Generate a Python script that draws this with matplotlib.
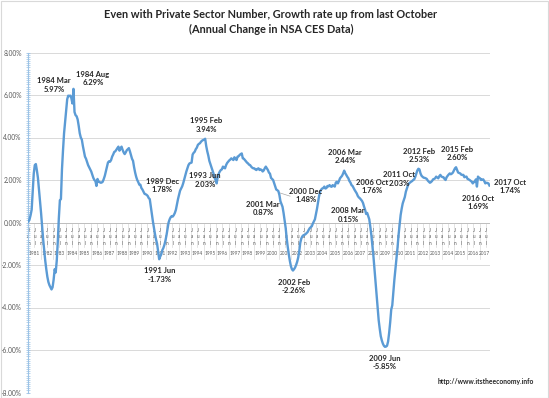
import matplotlib
matplotlib.use("Agg")
import matplotlib.pyplot as plt
import numpy as np
from matplotlib.patches import Rectangle

plt.rcParams['font.family'] = ['Lato', 'DejaVu Sans']

# ---------------- data (annual % change, monthly, Jan 1981 .. Oct 2017) ----------------
start_year = 1981
end_year = 2017
y1981 = [0.05, 0.15, 0.35, 0.6, 1.45, 2.3, 2.7, 2.75, 2.45, 2.1, 1.55, 1.0]
y1982 = [0.45, -0.2, -0.8, -1.3, -1.8, -2.2, -2.55, -2.8, -2.95, -3.05, -3.15, -3.05]
y1983 = [-2.7, -2.2, -2.35, -1.8, -0.9, 0.2, 1.05, 1.1, 2.5, 3.4, 4.2, 4.75]
y1984 = [5.3, 5.8, 5.97, 5.95, 5.97, 5.85, 5.6, 6.29, 5.2, 5.05, 5.0, 4.85]
y1985 = [4.55, 4.2, 4.0, 3.9, 3.6, 3.35, 3.1, 3.0, 2.85, 2.7, 2.6, 2.5]
y1986 = [2.4, 2.25, 2.1, 2.0, 1.95, 1.72, 2.05, 1.92, 1.9, 1.87, 1.88, 1.92]
y1987 = [2.05, 2.2, 2.4, 2.6, 2.82, 2.88, 2.86, 2.94, 3.1, 3.2, 3.32, 3.35]
y1988 = [3.42, 3.5, 3.57, 3.38, 3.5, 3.57, 3.42, 3.3, 3.22, 3.3, 3.4, 3.45]
y1989 = [3.5, 3.35, 3.18, 3.0, 2.9, 2.6, 2.35, 2.15, 2.0, 1.9, 1.78, 1.78]
y1990 = [1.62, 1.55, 1.45, 1.35, 1.33, 1.3, 1.25, 1.15, 1.1, 0.75, 0.4, 0.05]
y1991 = [-0.25, -0.55, -0.8, -1.0, -1.35, -1.73, -1.6, -1.5, -1.3, -1.2, -1.05, -0.85]
y1992 = [-0.6, -0.3, 0.0, 0.15, 0.25, 0.3, 0.28, 0.35, 0.45, 0.6, 0.85, 1.1]
y1993 = [1.3, 1.5, 1.6, 1.7, 1.85, 2.03, 2.2, 2.4, 2.55, 2.7, 2.78, 2.8]
y1994 = [2.82, 3.2, 3.28, 3.33, 3.45, 3.52, 3.65, 3.7, 3.73, 3.8, 3.85, 3.88]
y1995 = [3.9, 3.94, 3.6, 3.35, 3.15, 2.9, 2.75, 2.6, 2.45, 2.3, 2.1, 2.0]
y1996 = [1.84, 2.15, 2.3, 2.4, 2.47, 2.5, 2.63, 2.58, 2.55, 2.7, 2.8, 2.86]
y1997 = [2.92, 2.96, 3.02, 2.98, 2.94, 3.07, 3.0, 2.94, 3.1, 3.12, 3.18, 3.22]
y1998 = [3.25, 3.02, 3.0, 2.94, 2.88, 2.82, 2.78, 2.72, 2.7, 2.63, 2.58, 2.55]
y1999 = [2.55, 2.5, 2.47, 2.52, 2.55, 2.47, 2.5, 2.47, 2.4, 2.45, 2.55, 2.63]
y2000 = [2.55, 2.47, 2.35, 2.3, 2.1, 2.05, 2.0, 1.85, 1.7, 1.55, 1.52, 1.48]
y2001 = [1.3, 1.0, 0.87, 0.74, 0.45, 0.1, -0.25, -0.75, -1.15, -1.5, -1.8, -2.05]
y2002 = [-2.2, -2.26, -2.2, -2.12, -2.0, -1.85, -1.65, -1.35, -0.95, -0.75, -0.65, -0.6]
y2003 = [-0.58, -0.55, -0.5, -0.45, -0.35, -0.27, -0.22, -0.18, -0.05, 0.05, 0.15, 0.4]
y2004 = [0.65, 0.95, 1.25, 1.45, 1.55, 1.6, 1.62, 1.69, 1.6, 1.62, 1.72, 1.7]
y2005 = [1.76, 1.7, 1.68, 1.76, 1.72, 1.69, 1.88, 1.92, 1.84, 1.95, 2.08, 2.14]
y2006 = [2.2, 2.31, 2.44, 2.32, 2.24, 2.15, 2.08, 1.95, 1.88, 1.76, 1.72, 1.62]
y2007 = [1.53, 1.45, 1.37, 1.25, 1.18, 1.14, 1.08, 1.02, 0.92, 0.75, 0.6, 0.4]
y2008 = [0.45, 0.3, 0.15, -0.2, -0.6, -1.1, -1.6, -2.2, -2.8, -3.4, -4.0, -4.6]
y2009 = [-5.0, -5.35, -5.55, -5.7, -5.8, -5.85, -5.84, -5.8, -5.6, -5.2, -4.7, -4.1]
y2010 = [-3.9, -3.3, -2.7, -2.2, -1.7, -1.2, -0.6, -0.1, 0.35, 0.65, 0.9, 1.05]
y2011 = [1.2, 1.45, 1.6, 1.75, 1.84, 1.88, 1.92, 1.95, 2.0, 2.03, 2.15, 2.3]
y2012 = [2.45, 2.53, 2.5, 2.31, 2.2, 2.15, 2.11, 2.1, 2.08, 2.05, 1.97, 1.92]
y2013 = [1.87, 1.9, 1.95, 2.03, 2.05, 2.08, 2.16, 2.12, 2.08, 2.18, 2.24, 2.16]
y2014 = [2.14, 2.13, 2.05, 2.0, 2.13, 2.2, 2.26, 2.31, 2.27, 2.3, 2.35, 2.45]
y2015 = [2.55, 2.6, 2.47, 2.35, 2.33, 2.31, 2.25, 2.24, 2.24, 2.13, 2.15, 2.16]
y2016 = [2.05, 2.03, 2.0, 1.96, 1.92, 1.84, 1.9, 1.92, 2.03, 1.69, 2.16, 2.1]
y2017 = [2.08, 2.0, 2.02, 2.03, 1.95, 1.84, 1.87, 1.86, 1.84, 1.74]

yearly = [y1981, y1982, y1983, y1984, y1985, y1986, y1987, y1988, y1989, y1990,
          y1991, y1992, y1993, y1994, y1995, y1996, y1997, y1998, y1999, y2000,
          y2001, y2002, y2003, y2004, y2005, y2006, y2007, y2008, y2009, y2010,
          y2011, y2012, y2013, y2014, y2015, y2016, y2017]
values = [v for yr in yearly for v in yr]

years = list(range(start_year, end_year + 1))
month_labels = ["Jan", "Jul"]
ytick_vals = [8, 6, 4, 2, 0, -2, -4, -6, -8]

# annotation texts
ann_texts = ["1984 Mar\n5.97%", "1984 Aug\n6.29%", "1989 Dec\n1.78%", "1991 Jun\n-1.73%",
             "1995 Feb\n3.94%", "1993 Jun\n2.03%", "2001 Mar\n0.87%", "2000 Dec\n1.48%",
             "2002 Feb\n-2.26%", "2006 Mar\n2.44%", "2006 Oct\n1.76%", "2008 Mar\n0.15%",
             "2009 Jun\n-5.85%", "2011 Oct\n2.03%", "2012 Feb\n2.53%", "2015 Feb\n2.60%",
             "2016 Oct\n1.69%", "2017 Oct\n1.74%"]
# label placement (x in month index units, y in % units)
ann_pos = [(24.4, 6.47), (61.7, 6.78), (127.7, 1.74), (125.8, -2.47),
           (169.8, 4.59), (168.9, 2.0), (224.4, 0.66), (265.5, 1.27),
           (254.0, -3.02), (302.8, 3.11), (328.7, 1.69), (305.7, 0.35),
           (341.1, -6.6), (354.5, 2.05), (373.7, 3.15), (410.0, 3.25),
           (430.1, 0.94), (460.7, 1.69)]

title = "Even with Private Sector Number, Growth rate up from last October\n(Annual Change in NSA CES Data)"
source = "http://www.itstheeconomy.info"

# ---------------- figure ----------------
W, H = 549, 398
fig = plt.figure(figsize=(W / 100, H / 100), dpi=100)
fig.patch.set_facecolor("white")
fig.add_artist(Rectangle((0.001, 0.001), 0.998, 0.997, transform=fig.transFigure,
                         fill=False, edgecolor="#D9D9D9", linewidth=0.8))

ax = fig.add_axes([28 / W, 1 - 392.5 / H, 462 / W, 340 / H])
n = len(values)
x = np.arange(n)
ax.set_xlim(-0.5, n - 0.5)
ax.set_ylim(-8, 8)

for v in ytick_vals:
    ax.axhline(v, color="#D9D9D9", lw=0.7, zorder=1)

ax.plot(x, values, color="#5B9BD5", lw=1.7, zorder=3, solid_joinstyle="round")

# spines / ticks
for s in ["top", "right", "bottom"]:
    ax.spines[s].set_visible(False)
ax.spines["left"].set_color("#9DC3E6")
ax.spines["left"].set_linewidth(0.8)
ax.set_yticks(ytick_vals)
ax.set_yticklabels([f"{v:.2f}%" for v in ytick_vals])
ax.set_yticks(np.arange(-8, 8.01, 0.1), minor=True)
ax.tick_params(axis="y", which="major", length=3, width=0.6, color="#9DC3E6",
               direction="inout", labelsize=4.8, labelcolor="#595959", pad=3)
ax.tick_params(axis="y", which="minor", length=3, width=0.5, color="#9DC3E6",
               direction="inout")
ax.set_xticks([])

# category axis at zero
ax.axhline(0, color="#BFBFBF", lw=0.7, zorder=2)
row_y = [-0.40, -0.67, -0.98]
for yi, yr in enumerate(years):
    base = yi * 12
    for k, lab in enumerate(month_labels):
        idx = base + 6 * k
        if idx >= n:
            continue
        for r, ch in enumerate(lab):
            ax.text(idx, row_y[r], ch, ha="center", va="center", fontsize=3.4,
                    color="#595959", zorder=2)
    last = min(base + 11, n - 1)
    ax.text((base + last) / 2, -1.45, str(yr), ha="center", va="center",
            fontsize=3.4, color="#595959", zorder=2)
    ax.plot([base - 0.5, base - 0.5], [0, -1.7], color="#D9D9D9", lw=0.5, zorder=1)
    if base + 6 < n:
        ax.plot([base + 5.5, base + 5.5], [0, -1.15], color="#D9D9D9", lw=0.5, zorder=1)
ax.plot([n - 0.5, n - 0.5], [0, -1.7], color="#D9D9D9", lw=0.5, zorder=1)

# annotations
for txt, (px, py) in zip(ann_texts, ann_pos):
    ax.text(px, py, txt, ha="center", va="center", fontsize=5.5, fontweight="bold",
            color="#262626", linespacing=1.2, zorder=4, clip_on=False)
# leader line for 2000 Dec
ax.plot([240.6, 250.2], [1.39, 1.24], color="#A6A6A6", lw=0.5, zorder=2)

fig.text(271 / W, 1 - 22 / H, title, ha="center", va="center", fontsize=7.9,
         fontweight="bold", color="#262626", linespacing=1.4)
fig.text(486 / W, 1 - 381.7 / H, source, ha="center", va="center", fontsize=4.9,
         fontweight="bold", color="#262626")

fig.savefig("out.png", dpi=100, facecolor="white")
